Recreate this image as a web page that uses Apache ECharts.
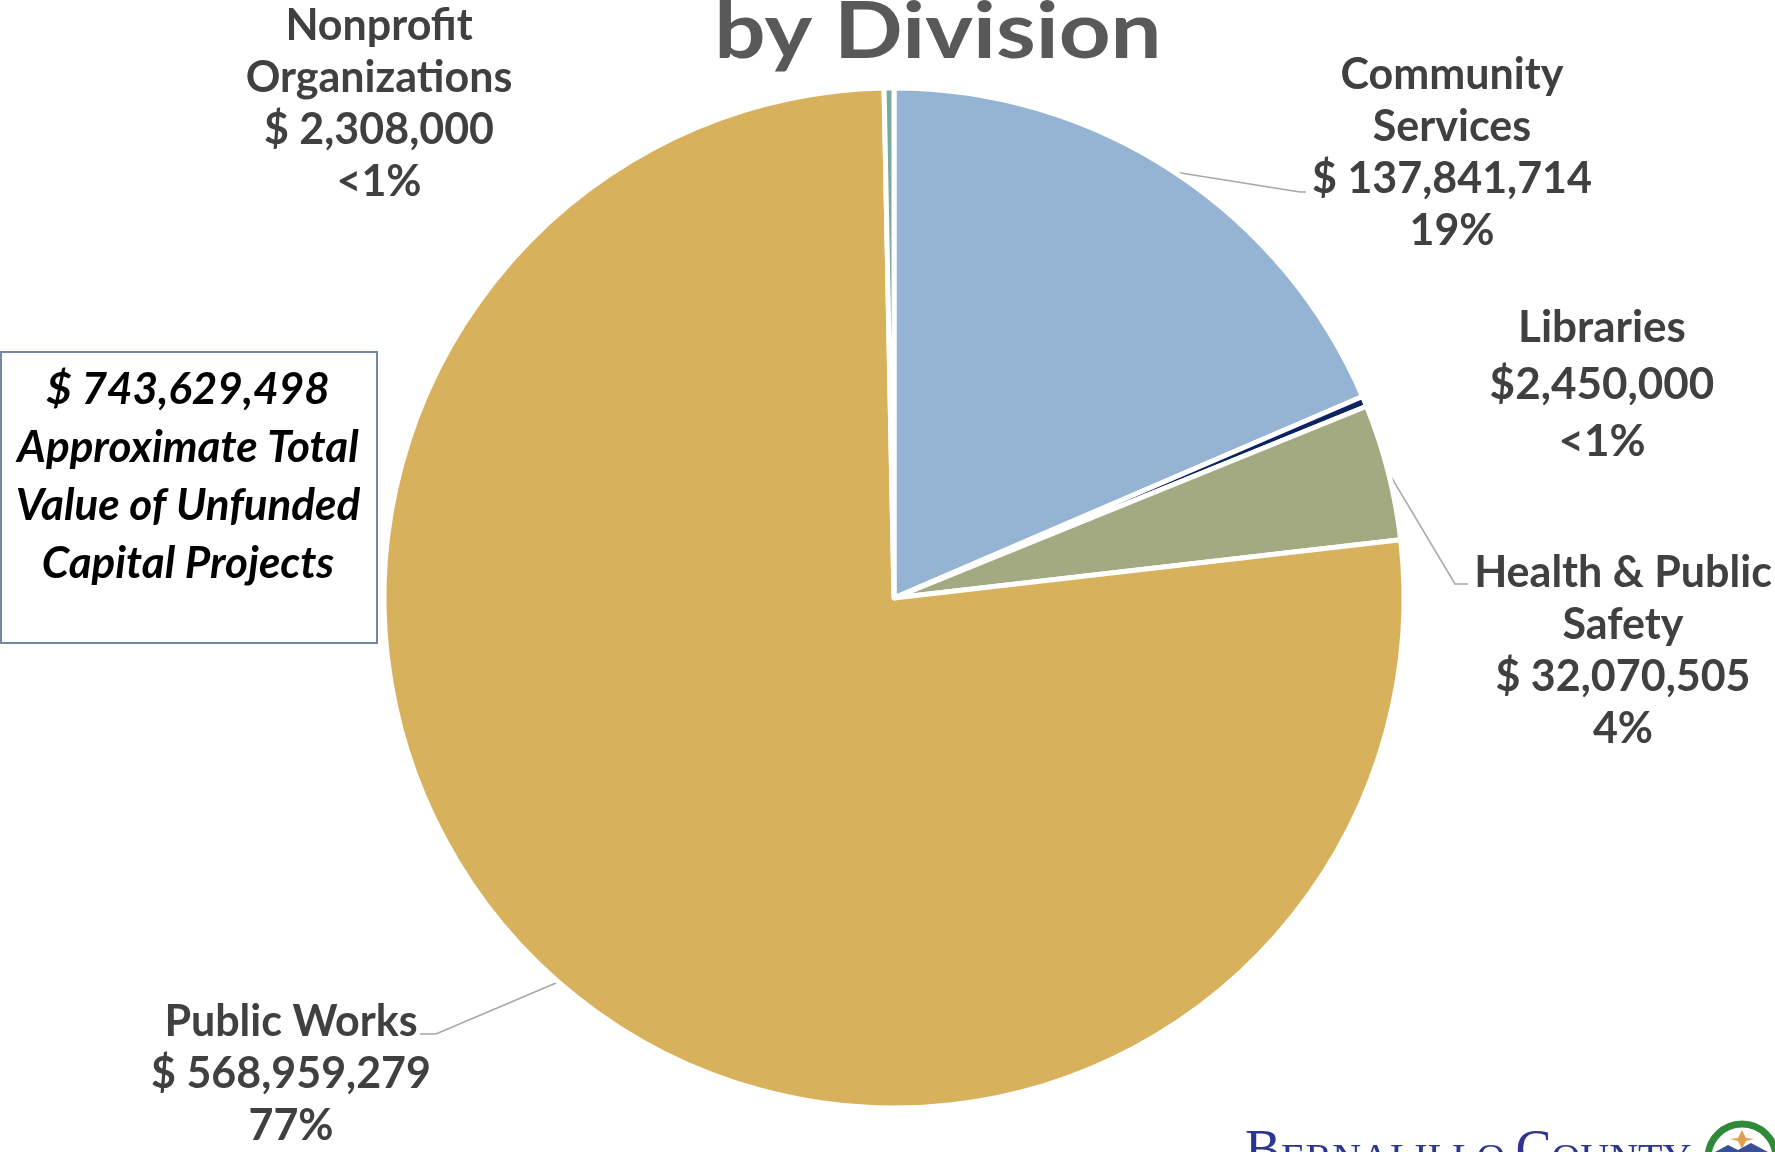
<!DOCTYPE html>
<html>
<head>
<meta charset="utf-8">
<script src="https://cdn.jsdelivr.net/npm/echarts@6/dist/echarts.min.js"></script>
<style>html,body{margin:0;padding:0;background:#fff;}#c{width:1775px;height:1152px;}</style>
</head>
<body>
<div id="c"></div>
<script>
// ---- data ----
const categories = ['Community Services', 'Libraries', 'Health & Public Safety', 'Public Works', 'Nonprofit Organizations'];
const labelNames = ['Community\nServices', 'Libraries', 'Health & Public\nSafety', 'Public Works', 'Nonprofit\nOrganizations'];
const values = [137841714, 2450000, 32070505, 568959279, 2308000];
const dollarPrefix = ['$ ', '$', '$ ', '$ ', '$ '];
const titleText = 'by Division';
const boxCaption = 'Approximate Total\nValue of Unfunded\nCapital Projects';
const logoText = ['B', 'ERNALILLO ', 'C', 'OUNTY'];

// ---- styles / layout ----
const colors = ['#95b3d3', '#0d2462', '#a3a981', '#d8b15c', '#79aa9b'];
const center = [894, 598];
const radius = 510;
const labelPos = [[1452, 153], [1602, 385], [1623, 651], [291, 1074], [379, 104]];
const labelLineH = [52, 57, 52, 52, 52];
const elbows = [[[1300, 192], [1306, 192]], null, [[1455, 584], [1468, 584]], [[436, 1034], [420, 1034]], null];
const FONT = 'Lato, "Open Sans", sans-serif';

const total = values.reduce((a, b) => a + b, 0);
const fmt = v => v.toLocaleString('en-US');
const pctText = v => { const p = v / total * 100; return p < 1 ? '<1%' : Math.round(p) + '%'; };

// mid angles (clockwise from 12 o'clock) for leader line starts
const midAngles = [];
let acc = 0;
values.forEach(v => { const a = v / total * 360; midAngles.push(acc + a / 2); acc += a; });
const edgePoint = i => {
  const a = midAngles[i] * Math.PI / 180;
  return [center[0] + radius * Math.sin(a), center[1] - radius * Math.cos(a)];
};

const chart = echarts.init(document.getElementById('c'), null, { renderer: 'canvas' });

const data = categories.map((c, i) => ({
  name: c,
  value: values[i],
  itemStyle: { color: colors[i] },
  label: { lineHeight: labelLineH[i], fontSize: i === 1 ? 44 : 43 },
  labelLine: { show: !!elbows[i] }
}));

chart.setOption({
  backgroundColor: '#ffffff',
  animation: false,
  series: [{
    type: 'pie',
    center: center,
    radius: radius,
    startAngle: 90,
    clockwise: true,
    avoidLabelOverlap: false,
    itemStyle: { borderColor: '#ffffff', borderWidth: 5 },
    label: {
      show: true,
      position: 'outside',
      color: '#404040',
      fontFamily: FONT,
      fontWeight: 'bold',
      fontSize: 43,
      lineHeight: 52,
      align: 'center',
      formatter: p => labelNames[p.dataIndex] + '\n' + dollarPrefix[p.dataIndex] + fmt(values[p.dataIndex]) + '\n' + pctText(values[p.dataIndex])
    },
    labelLine: { show: true, lineStyle: { color: '#a6a6a6', width: 1.5 } },
    labelLayout: p => {
      const i = p.dataIndex;
      const out = { x: labelPos[i][0], y: labelPos[i][1], align: 'center', verticalAlign: 'middle' };
      if (elbows[i]) out.labelLinePoints = [edgePoint(i), elbows[i][0], elbows[i][1]];
      return out;
    },
    emphasis: { disabled: true },
    data: data
  }],
  graphic: [
    {
      type: 'text', x: 938, y: -6, scaleX: 1.16,
      style: { text: titleText, font: 'bold 78px ' + FONT, fill: '#595959', align: 'center', verticalAlign: 'top' }
    },
    {
      type: 'rect', shape: { x: 1, y: 352, width: 376, height: 291 },
      style: { fill: '#ffffff', stroke: '#7189a3', lineWidth: 2 }
    },
    {
      type: 'text', x: 188, y: 477,
      style: {
        text: '$ ' + fmt(total) + '\n' + boxCaption,
        font: 'italic bold 44px ' + FONT, fill: '#000000',
        align: 'center', verticalAlign: 'middle', lineHeight: 58
      }
    },
    {
      type: 'text', x: 1245, y: 1180,
      style: {
        text: '{b|' + logoText[0] + '}{s|' + logoText[1] + '}{b|' + logoText[2] + '}{s|' + logoText[3] + '}',
        fill: '#2c3590', verticalAlign: 'bottom', align: 'left',
        rich: {
          b: { font: '54px "Liberation Serif", serif', fill: '#2c3590', verticalAlign: 'bottom' },
          s: { font: '40px "Liberation Serif", serif', fill: '#2c3590', verticalAlign: 'bottom' }
        }
      }
    },
    {
      type: 'circle', shape: { cx: 1742, cy: 1158, r: 34 },
      style: { fill: '#ffffff', stroke: '#2f8a3a', lineWidth: 7 }
    },
    {
      type: 'polygon', shape: { points: [[1742, 1130], [1746, 1138], [1754, 1139], [1746, 1141], [1742, 1149], [1738, 1141], [1730, 1139], [1738, 1138]] },
      style: { fill: '#e0a050' }
    },
    {
      type: 'polygon', shape: { points: [[1715, 1152], [1728, 1145], [1738, 1150], [1751, 1143], [1768, 1152]] },
      style: { fill: '#3a4f9a' }
    }
  ]
});
</script>
</body>
</html>
